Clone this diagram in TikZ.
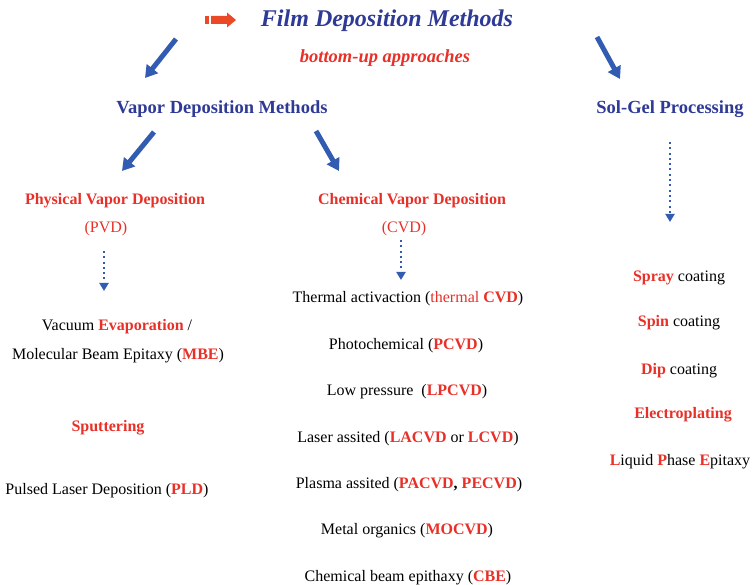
\documentclass[tikz,border=0pt]{standalone}
\usepackage{fontspec}
\setmainfont{Liberation Serif}
\usetikzlibrary{arrows.meta}
\definecolor{titleblue}{RGB}{46,58,150}
\definecolor{arrowblue}{RGB}{50,92,178}
\definecolor{hired}{RGB}{232,48,40}
\definecolor{pointer}{RGB}{234,72,38}
% red bold part of a label
\newcommand{\hi}[1]{{\bfseries\color{hired}#1}}

\begin{document}
\begin{tikzpicture}[x=1pt,y=-1pt,
  item/.style={font=\fontsize{16}{19}\selectfont,inner sep=0pt},
  sub/.style={font=\fontsize{16}{19}\selectfont\bfseries,text=hired,inner sep=0pt},
  head/.style={font=\fontsize{18.5}{22}\selectfont\bfseries,text=titleblue,inner sep=0pt},
  big/.style={-{Triangle[length=12pt,width=14pt]},line width=5pt,arrowblue},
  dots/.style={-{Triangle[length=8pt,width=9pt]},line width=2pt,arrowblue,dash pattern=on 2pt off 3.3pt}]
\useasboundingbox (0,0) rectangle (753,585);

% title with its pointer
\fill[pointer] (205,16) rectangle (209,24);
\fill[pointer] (211,16) -- (227,16) -- (227,12.5) -- (236,20) -- (227,27.5) -- (227,24) -- (211,24) -- cycle;
\node[inner sep=0pt,font=\fontsize{24}{28}\selectfont\bfseries\itshape,text=titleblue] (title) at (387,21) {Film Deposition Methods};
\node[inner sep=0pt,font=\fontsize{18.5}{22}\selectfont\bfseries\itshape,text=hired] (bottomup) at (385,58) {bottom-up approaches};

\node[head] (vapor) at (222,109) {Vapor Deposition Methods};
\node[head] (solgel) at (670,109) {Sol-Gel Processing};

\coordinate (t-left) at (176,39);
\coordinate (t-right) at (597,37);
\coordinate (vapor-in) at (145,78);
\coordinate (solgel-in) at (620,79);
\draw[big] (t-left) -- (vapor-in);
\draw[big] (t-right) -- (solgel-in);

% physical / chemical
\node[sub] (pvd) at (115,201) {Physical Vapor Deposition};
\node[item,text=hired] (pvdabbr) at (106,229) {(PVD)};
\node[sub] (cvd) at (412,201) {Chemical Vapor Deposition};
\node[item,text=hired] (cvdabbr) at (404,229) {(CVD)};

\coordinate (v-left) at (154,132);
\coordinate (v-right) at (316,131);
\coordinate (pvd-in) at (122,171);
\coordinate (cvd-in) at (339,171);
\draw[big] (v-left) -- (pvd-in);
\draw[big] (v-right) -- (cvd-in);

\coordinate (pvd-a) at (104,251);
\coordinate (pvd-b) at (104,291);
\coordinate (cvd-a) at (401,240);
\coordinate (cvd-b) at (401,280);
\coordinate (sg-a) at (670,142);
\coordinate (sg-b) at (670,222);
\draw[dots] (pvd-a) -- (pvd-b);
\draw[dots] (cvd-a) -- (cvd-b);
\draw[dots] (sg-a) -- (sg-b);

% PVD list
\node[item] (evap) at (117,327) {Vacuum \hi{Evaporation} /};
\node[item] (mbe) at (118,356) {Molecular Beam Epitaxy (\hi{MBE})};
\node[item] (sput) at (108,428) {\hi{Sputtering}};
\node[item] (pld) at (107,491) {Pulsed Laser Deposition (\hi{PLD})};

% CVD list
\node[item] (thermal) at (408,299) {Thermal activaction ({\color{hired}thermal} \hi{CVD})};
\node[item] (photo) at (406,346) {Photochemical (\hi{PCVD})};
\node[item] (lowp) at (407,392) {Low pressure \ (\hi{LPCVD})};
\node[item] (laser) at (408,439) {Laser assited (\hi{LACVD} or \hi{LCVD})};
\node[item] (plasma) at (409,485) {Plasma assited (\hi{PACVD}\textbf{,} \hi{PECVD})};
\node[item] (metal) at (407,531) {Metal organics (\hi{MOCVD})};
\node[item] (cbe) at (408,578) {Chemical beam epithaxy (\hi{CBE})};

% sol-gel list
\node[item] (spray) at (679,278) {\hi{Spray} coating};
\node[item] (spin) at (679,323) {\hi{Spin} coating};
\node[item] (dip) at (679,371) {\hi{Dip} coating};
\node[item] (electro) at (683,415) {\hi{Electroplating}};
\node[item] (lpe) at (680,462) {\hi{L}iquid \hi{P}hase \hi{E}pitaxy};
\end{tikzpicture}
\end{document}
